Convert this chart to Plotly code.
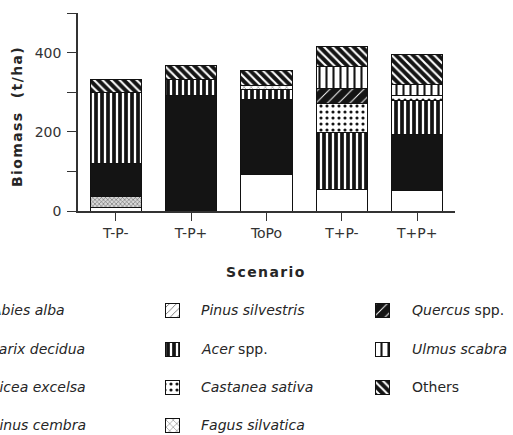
import plotly.graph_objects as go

# Scenario categories
scenarios = ["T-P-", "T-P+", "ToPo", "T+P-", "T+P+"]

# Biomass (t/ha) per species in each scenario
abies_alba = [10, 0, 92, 55, 52]
larix_decidua = [26, 0, 0, 0, 0]
picea_excelsa = [84, 291, 190, 0, 142]
pinus_cembra = [0, 0, 0, 0, 0]
pinus_silvestris = [0, 0, 0, 0, 0]
acer_spp = [180, 42, 24, 142, 84]
castanea_sativa = [0, 0, 0, 75, 13]
fagus_silvatica = [0, 0, 12, 0, 0]
quercus_spp = [0, 0, 0, 38, 0]
ulmus_scabra = [0, 0, 0, 56, 29]
others = [33, 34, 38, 50, 75]

# Y-axis ticks
y_tickvals = [0, 100, 200, 300, 400, 500]
y_ticktext = ["0", "", "200", "", "400", ""]

W, H = 513, 435
FONT = "DejaVu Sans"
INK = "#262626"

# fill styles (pattern definitions)
styles = {
    "abies": dict(shape="", bgcolor="white", fgcolor="black"),
    "larix": dict(shape="x", bgcolor="#d8d8d8", fgcolor="#555555", size=3, solidity=0.3),
    "picea": dict(shape="", bgcolor="#141414", fgcolor="#141414"),
    "cembra": dict(shape="+", bgcolor="white", fgcolor="#333333", size=5, solidity=0.25),
    "silvestris": dict(shape="/", bgcolor="white", fgcolor="#555555", size=5, solidity=0.15),
    "acer": dict(shape="|", bgcolor="#141414", fgcolor="white", size=6, solidity=0.38),
    "castanea": dict(shape=".", bgcolor="white", fgcolor="#141414", size=6, solidity=0.22),
    "fagus": dict(shape="x", bgcolor="white", fgcolor="#444444", size=5, solidity=0.15),
    "quercus": dict(shape="/", bgcolor="#141414", fgcolor="white", size=8, solidity=0.12),
    "ulmus": dict(shape="|", bgcolor="white", fgcolor="#141414", size=7, solidity=0.3),
    "others": dict(shape="\\", bgcolor="#141414", fgcolor="white", size=6, solidity=0.35),
}

series = [
    ("abies", "<i>Abies alba</i>", abies_alba),
    ("larix", "<i>Larix decidua</i>", larix_decidua),
    ("picea", "<i>Picea excelsa</i>", picea_excelsa),
    ("cembra", "<i>Pinus cembra</i>", pinus_cembra),
    ("silvestris", "<i>Pinus silvestris</i>", pinus_silvestris),
    ("acer", "<i>Acer</i> spp.", acer_spp),
    ("castanea", "<i>Castanea sativa</i>", castanea_sativa),
    ("fagus", "<i>Fagus silvatica</i>", fagus_silvatica),
    ("quercus", "<i>Quercus</i> spp.", quercus_spp),
    ("ulmus", "<i>Ulmus scabra</i>", ulmus_scabra),
    ("others", "Others", others),
]


def pattern(key):
    s = dict(styles[key])
    color = s["bgcolor"]
    if s["shape"] == "":
        return color, None
    s["fillmode"] = "replace"
    return color, s


fig = go.Figure()

# stacked bars, bottom to top in legend order
for key, label, vals in series:
    color, pat = pattern(key)
    marker = dict(color=color, line=dict(color="#111111", width=1))
    if pat:
        marker["pattern"] = pat
    fig.add_trace(go.Bar(
        x=scenarios, y=vals, name=label, marker=marker,
        showlegend=False, xaxis="x", yaxis="y",
    ))

# legend block: three columns of swatch + label, drawn on a pixel-scaled helper axis
col_swatch_x = [-38, 172, 382]
col_text_x = [-11, 199, 410]
row_y = [310, 349, 387, 425]
columns = [series[0:4], series[4:8], series[8:11]]
SW = 14

for ci, col in enumerate(columns):
    for ri, (key, label, _) in enumerate(col):
        color, pat = pattern(key)
        marker = dict(color=color, line=dict(color="#111111", width=1))
        if pat:
            marker["pattern"] = pat
        fig.add_trace(go.Bar(
            x=[col_swatch_x[ci]], y=[SW], base=[row_y[ri] - SW / 2], width=[SW],
            marker=marker, showlegend=False, xaxis="x2", yaxis="y2",
            hoverinfo="skip",
        ))
        fig.add_annotation(
            x=col_text_x[ci] / W, y=1 - row_y[ri] / H, xref="paper", yref="paper",
            text=label, showarrow=False, xanchor="left", yanchor="middle",
            font=dict(family=FONT, size=14, color=INK),
        )

# axis titles
fig.add_annotation(
    x=17 / W, y=1 - 117 / H, xref="paper", yref="paper",
    text="<b>" + "\u200a".join("Biomass") + "\u00a0\u00a0\u00a0" + "\u200a".join("(t/ha)") + "</b>",
    textangle=-90, showarrow=False,
    xanchor="center", yanchor="middle",
    font=dict(family=FONT, size=14, color=INK),
)
fig.add_annotation(
    x=265 / W, y=1 - 272 / H, xref="paper", yref="paper",
    text="<b>" + "\u200a".join("Scenario") + "</b>", showarrow=False,
    xanchor="center", yanchor="middle",
    font=dict(family=FONT, size=14, color=INK),
)

x0, x1 = 78, 455
y_top, y_base = 13, 211

fig.update_layout(
    width=W, height=H,
    margin=dict(l=0, r=0, t=0, b=0, autoexpand=False),
    paper_bgcolor="white", plot_bgcolor="rgba(0,0,0,0)",
    barmode="stack", bargap=0.32,
    font=dict(family=FONT, size=14, color="#333333"),
    xaxis=dict(
        domain=[x0 / W, x1 / W], anchor="y",
        showline=True, linecolor="#333333", linewidth=1.5,
        ticks="outside", ticklen=8, tickwidth=1.2, tickcolor="#333333",
        showgrid=False, zeroline=False,
        tickfont=dict(family=FONT, size=14, color="#333333"),
    ),
    yaxis=dict(
        domain=[1 - y_base / H, 1 - y_top / H], anchor="x",
        range=[0, 500], tickvals=y_tickvals, ticktext=y_ticktext,
        showline=True, linecolor="#333333", linewidth=1.5,
        ticks="outside", ticklen=9, tickwidth=1.2, tickcolor="#333333",
        showgrid=False, zeroline=False, ticklabelstandoff=3,
        tickfont=dict(family=FONT, size=14, color="#333333"),
    ),
    xaxis2=dict(domain=[0, 1], anchor="y2", range=[0, W], visible=False),
    yaxis2=dict(domain=[0, 0.4], anchor="x2", range=[H, H * 0.6], visible=False),
)

fig.write_html("out.html")
